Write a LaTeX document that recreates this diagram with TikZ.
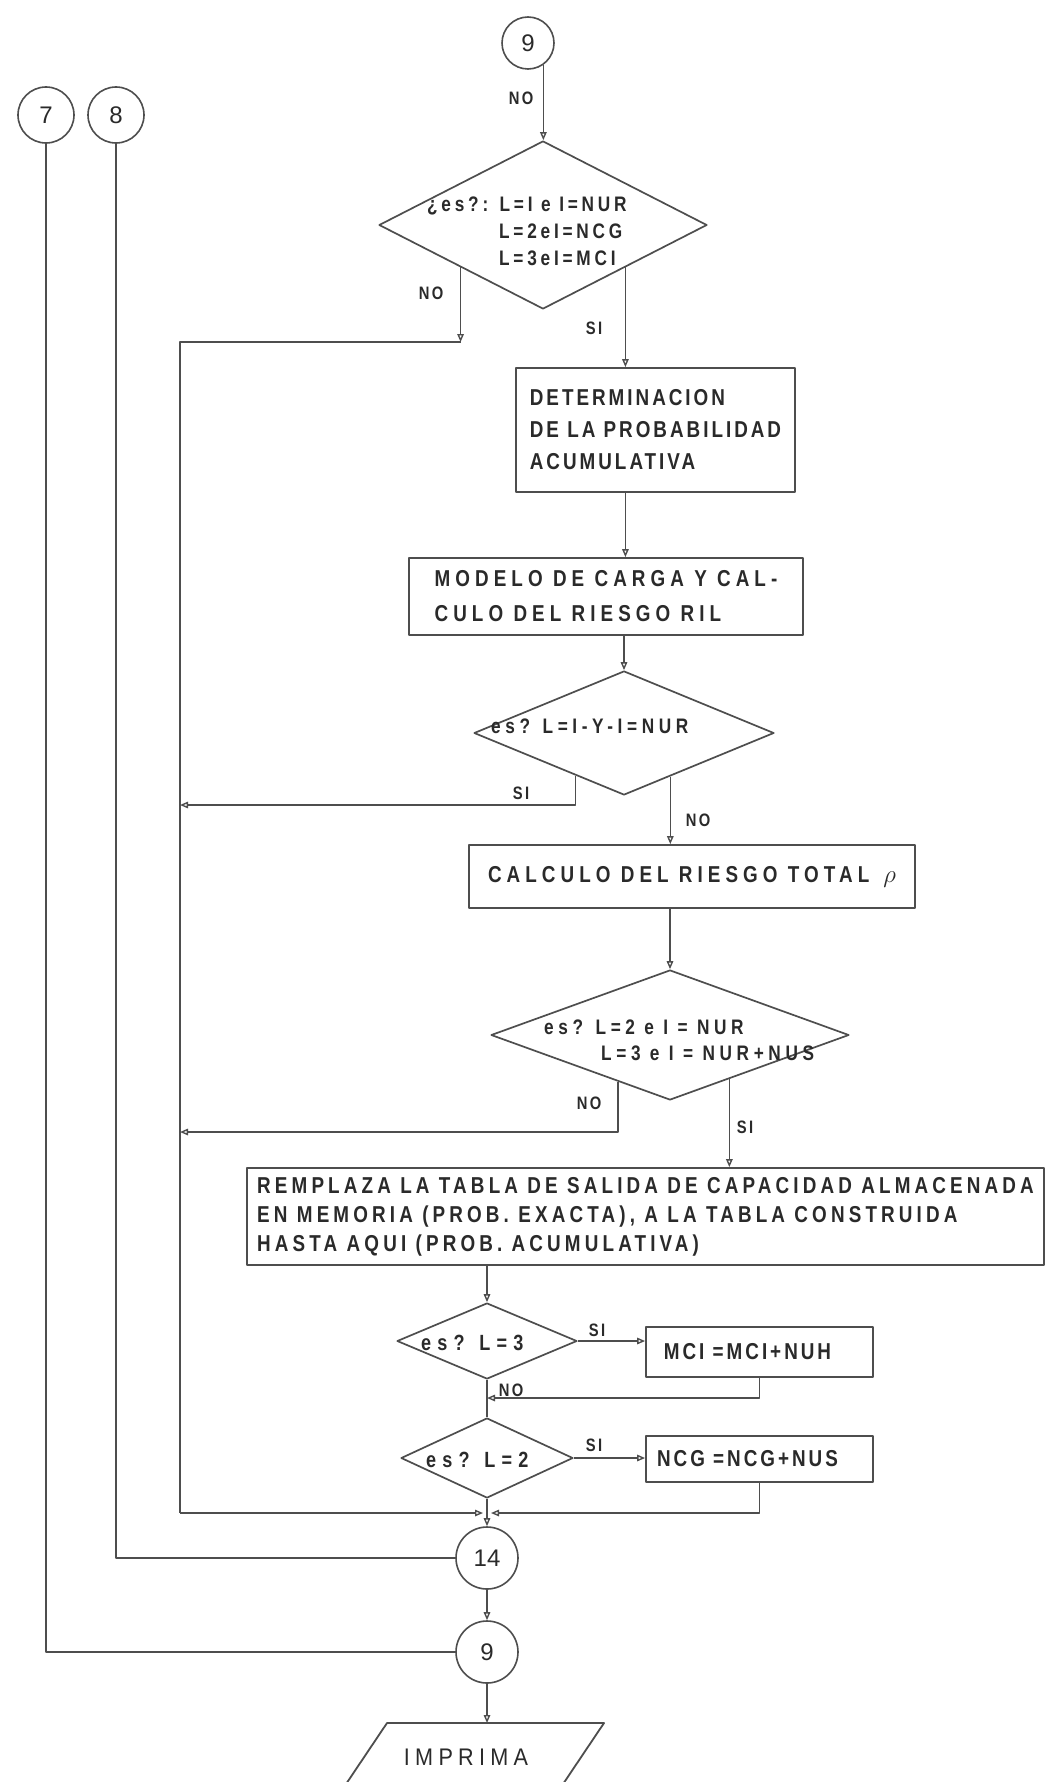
\documentclass[tikz,border=0pt]{standalone}
\usepackage{fontspec}
\newfontfamily\lettering[LetterSpace=13,FakeStretch=0.82]{Liberation Sans}
\newfontfamily\letterM[LetterSpace=18,FakeStretch=0.82]{Liberation Sans}
\newfontfamily\letterD[LetterSpace=22,FakeStretch=0.82]{Liberation Sans}
\newfontfamily\letterX[LetterSpace=28,FakeStretch=0.82]{Liberation Sans}
\newfontfamily\wideletter[LetterSpace=22,FakeStretch=0.9]{Liberation Sans}
\newfontfamily\plainletter{Liberation Sans}
\usetikzlibrary{arrows.meta,shapes.geometric,calc}
\definecolor{ink}{HTML}{2A2A2A}
\definecolor{pen}{HTML}{4E4E4E}

\begin{document}
\begin{tikzpicture}[x=1pt,y=-1pt,line join=round,
  every node/.style={text=ink},
  flow/.style={draw=pen,line width=1.4pt},
  arr/.style={flow,-{Triangle[open,length=8pt,width=6.5pt]}},
  box/.style={draw=pen,line width=1.8pt,inner sep=0pt,align=left,
    font=\lettering\bfseries\fontsize{23}{30}\selectfont},
  decision/.style={diamond,draw=pen,line width=1.7pt,inner sep=0pt},
  qtext/.style={inner sep=0pt,align=left,font=\letterD\bfseries\fontsize{21}{27}\selectfont},
  conn/.style={circle,draw=pen,line width=1.6pt,inner sep=0pt,
    font=\plainletter\fontsize{24}{24}\selectfont},
  lab/.style={inner sep=0pt,font=\lettering\bfseries\fontsize{18}{18}\selectfont}]

\fill[white] (0,0) rectangle (1047,1782);
\useasboundingbox (0,0) rectangle (1047,1782);

% connectors and entry points
\node[conn,minimum size=52pt] (c9top) at (528,43) {9};
\node[conn,minimum size=56pt] (c7) at (46,115) {7};
\node[conn,minimum size=56pt] (c8) at (116,115) {8};

% first test
\node[decision,minimum width=328pt,minimum height=168pt] (d1) at (543,225) {};
\node[qtext,anchor=west,font=\letterM\bfseries\fontsize{21}{27}\selectfont] (d1t) at (427,231)
  {¿es?: L=I e I=NUR\\\hspace*{72pt}L=2eI=NCG\\\hspace*{72pt}L=3eI=MCI};
\draw[arr] (c9top.-55) -- (c9top.-55 |- d1.north);
\node[lab] (lno1) at (521,98) {NO};

% main column of processes
\node[box,minimum width=279pt,minimum height=124pt,font=\lettering\bfseries\fontsize{23}{32}\selectfont]
  (b1) at (655.5,430) {DETERMINACION\\DE LA PROBABILIDAD\\ACUMULATIVA};
\node[box,minimum width=394pt,minimum height=77pt,font=\letterD\bfseries\fontsize{23}{35}\selectfont]
  (b2) at (606,596.5) {MODELO DE CARGA Y CAL-\\CULO DEL RIESGO RIL};
\node[decision,minimum width=300pt,minimum height=124pt] (d2) at (624,733) {};
\node[qtext,anchor=west] (d2t) at (491,726) {es? L=I-Y-I=NUR};
\node[box,minimum width=446pt,minimum height=63pt,align=center,font=\letterD\bfseries\fontsize{23}{30}\selectfont]
  (b3) at (692,876.5) {CALCULO DEL RIESGO TOTAL \,{\fontsize{30}{30}\selectfont$\rho$}};
\node[decision,minimum width=358pt,minimum height=130pt] (d3) at (670,1035) {};
\node[qtext,anchor=west,font=\letterD\bfseries\fontsize{21}{26}\selectfont] (d3t) at (544,1040)
  {es? L=2 e I = NUR\\\hspace*{57pt}L=3 e I = NUR+NUS};
\node[box,minimum width=797pt,minimum height=97pt,font=\letterM\bfseries\fontsize{23}{29}\selectfont]
  (b4) at (645.5,1216.5)
  {REMPLAZA LA TABLA DE SALIDA DE CAPACIDAD ALMACENADA\\
   EN MEMORIA (PROB. EXACTA), A LA TABLA CONSTRUIDA\\
   HASTA AQUI (PROB. ACUMULATIVA)};
\node[decision,minimum width=180pt,minimum height=76pt] (d4) at (487,1341) {};
\node[qtext,anchor=west,font=\letterX\bfseries\fontsize{22}{22}\selectfont] (d4t) at (421,1343) {es? L=3};
\node[box,minimum width=227pt,minimum height=50pt,align=center]
  (b5) at (759.5,1352) {MCI =MCI+NUH\hspace*{24pt}};
\node[decision,minimum width=172pt,minimum height=80pt] (d5) at (487,1458) {};
\node[qtext,anchor=west,font=\letterX\bfseries\fontsize{22}{22}\selectfont] (d5t) at (426,1460) {es? L=2};
\node[box,minimum width=227pt,minimum height=46pt,align=center]
  (b6) at (759.5,1459) {NCG =NCG+NUS\hspace*{24pt}};
\node[conn,minimum size=62pt] (c14) at (487,1558) {14};
\node[conn,minimum size=62pt] (c9bot) at (487,1652) {9};

% output symbol
\coordinate (p1) at (387,1723);
\coordinate (p2) at (604,1723);
\coordinate (p3) at (557,1793);
\coordinate (p4) at (340,1793);
\draw[pen,line width=1.8pt] (p1) -- (p2) -- (p3) -- (p4) -- cycle;
\node[inner sep=0pt,font=\wideletter\fontsize{24}{24}\selectfont] (imp) at (466,1757) {IMPRIMA};

% return rail on the left
\coordinate (j1) at (d1.south west |- 0,342);
\coordinate (railtop) at (180,342);
\coordinate (railbot) at (180,1513);
\coordinate (r2) at (180,805);
\coordinate (r3) at (180,1132);
\coordinate (m1) at (487,1398);
\coordinate (m2) at (487,1513);

% first test exits
\draw[arr] (d1.south west) -- (j1);
\draw[flow] (j1) -- (railtop) -- (railbot);
\node[lab] (lno2) at (431,293) {NO};
\draw[arr] (d1.south east) -- (d1.south east |- b1.north);
\node[lab] (lsi1) at (594,328) {SI};

\draw[arr] (d1.south east |- b1.south) -- (d1.south east |- b2.north);
\draw[arr] (d2.north |- b2.south) -- (d2.north);

% second test exits
\coordinate (d2sw) at ($(d2.west)!0.68!(d2.south)$);
\coordinate (d2se) at ($(d2.south)!0.307!(d2.east)$);
\draw[arr] (d2sw) |- (r2);
\node[lab] (lsi2) at (521,793) {SI};
\draw[arr] (d2se) -- (d2se |- b3.north);
\node[lab] (lno3) at (698,820) {NO};

\draw[arr] (d3.north |- b3.south) -- (d3.north);

% third test exits
\coordinate (d3sw) at ($(d3.west)!0.71!(d3.south)$);
\coordinate (d3se) at ($(d3.south)!0.33!(d3.east)$);
\draw[arr] (d3sw) |- (r3);
\node[lab] (lno4) at (589,1103) {NO};
\draw[arr] (d3se) -- (d3se |- b4.north);
\node[lab] (lsi3) at (745,1127) {SI};

\draw[arr] (d4.north |- b4.south) -- (d4.north);

% L=3 branch
\draw[arr] (d4.east) -- (d4.east -| b5.west);
\node[lab] (lsi4) at (597,1330) {SI};
\draw[arr] (b5.south) |- (m1);
\node[lab] (lno5) at (511,1390) {NO};
\draw[flow] (d4.south) -- (d5.north);

% L=2 branch
\draw[arr] (d5.east) -- (d5.east -| b6.west);
\node[lab] (lsi5) at (594,1445) {SI};
\draw[arr,shorten >=4pt] (b6.south) |- (m2);
\draw[arr,shorten >=4pt] (railbot) -- (m2);

% tail of the chart
\draw[arr] (d5.south) -- (c14.north);
\draw[flow] (c8.south) |- (c14.west);
\draw[arr] (c14.south) -- (c9bot.north);
\draw[flow] (c7.south) |- (c9bot.west);
\draw[arr] (c9bot.south) -- (c9bot.south |- p1);
\end{tikzpicture}
\end{document}
